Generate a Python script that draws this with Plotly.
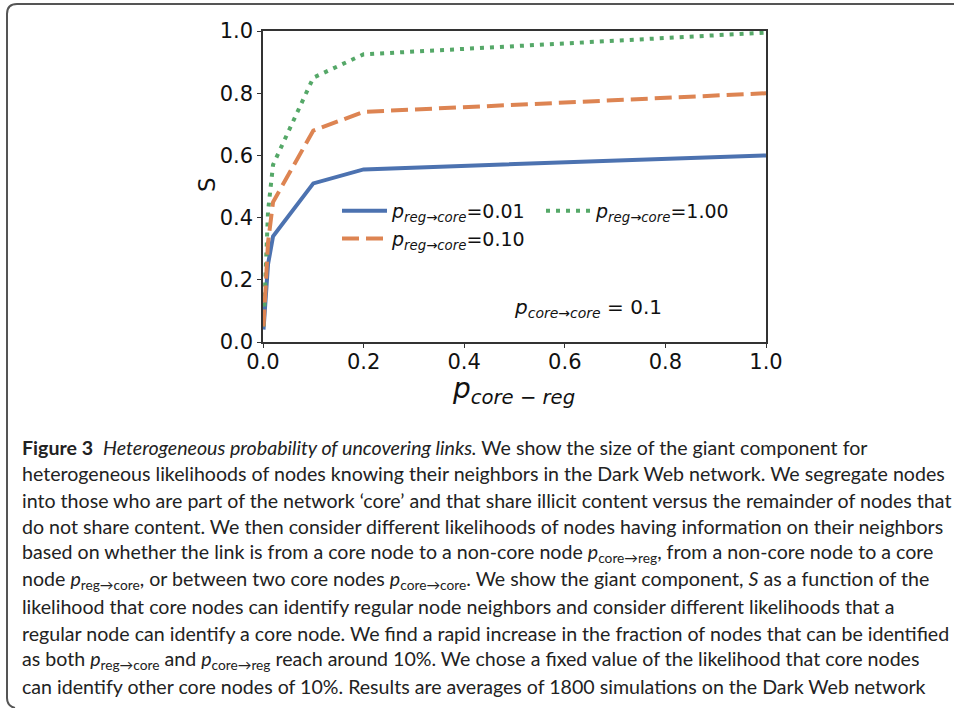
import plotly.graph_objects as go

# ---- data ----
x_core_reg = [0.001, 0.01, 0.02, 0.1, 0.2, 1.0]
s_reg001 = [0.04, 0.25, 0.34, 0.51, 0.555, 0.60]
s_reg010 = [0.05, 0.32, 0.45, 0.68, 0.74, 0.80]
s_reg100 = [0.05, 0.42, 0.57, 0.85, 0.925, 0.995]
series_names = ["0.01", "1.00", "0.10"]
tick_vals = [0.0, 0.2, 0.4, 0.6, 0.8, 1.0]
tick_text = ["0.0", "0.2", "0.4", "0.6", "0.8", "1.0"]

caption_lines = [
    "<b>Figure 3</b>  <i>Heterogeneous probability of uncovering links.</i> We show the size of the giant component for",
    "heterogeneous likelihoods of nodes knowing their neighbors in the Dark Web network. We segregate nodes",
    "into those who are part of the network ‘core’ and that share illicit content versus the remainder of nodes that",
    "do not share content. We then consider different likelihoods of nodes having information on their neighbors",
    "based on whether the link is from a core node to a non-core node <i>p</i><sub>core→reg</sub>, from a non-core node to a core",
    "node <i>p</i><sub>reg→core</sub>, or between two core nodes <i>p</i><sub>core→core</sub>. We show the giant component, <i>S</i> as a function of the",
    "likelihood that core nodes can identify regular node neighbors and consider different likelihoods that a",
    "regular node can identify a core node. We find a rapid increase in the fraction of nodes that can be identified",
    "as both <i>p</i><sub>reg→core</sub> and <i>p</i><sub>core→reg</sub> reach around 10%. We chose a fixed value of the likelihood that core nodes",
    "can identify other core nodes of 10%. Results are averages of 1800 simulations on the Dark Web network",
]

W, H = 954, 708
L, R, T, B = 263, 766, 31, 342


def px(x):
    return (x - L) / (R - L)


def py(y):
    return (B - y) / (B - T)


fig = go.Figure()
leg_label = "<i>p<sub>reg→core</sub></i>="
fig.add_trace(go.Scatter(x=x_core_reg, y=s_reg001, mode="lines", name=leg_label + series_names[0],
                         line=dict(color="#4C72B0", width=4)))
fig.add_trace(go.Scatter(x=x_core_reg, y=s_reg100, mode="lines", name=leg_label + series_names[1],
                         line=dict(color="#55A868", width=4, dash="4px,6px")))
fig.add_trace(go.Scatter(x=x_core_reg, y=s_reg010, mode="lines", name=leg_label + series_names[2],
                         line=dict(color="#DD8452", width=4, dash="17px,7px")))

axis_common = dict(
    range=[0, 1], tickvals=tick_vals, ticktext=tick_text, showgrid=False, zeroline=False,
    showline=True, linecolor="#333", linewidth=1.5, mirror=True, ticks="outside", ticklen=4,
    tickcolor="#333", tickfont=dict(family="DejaVu Sans", size=21, color="#111"),
)
fig.update_xaxes(**axis_common, ticklabelstandoff=-4)
fig.update_yaxes(**axis_common)

fig.update_layout(
    width=W, height=H, margin=dict(l=L, r=W - R, t=T, b=H - B),
    paper_bgcolor="white", plot_bgcolor="white",
    showlegend=True,
    legend=dict(orientation="h", x=px(337), y=py(192), xanchor="left", yanchor="top",
                entrywidth=144, itemwidth=45, bgcolor="rgba(0,0,0,0)",
                font=dict(family="DejaVu Sans", size=19, color="#111"), tracegroupgap=0),
)

annotations = [
    dict(x=0.646, y=0.11, xref="x", yref="y", text="<i>p<sub>core→core</sub></i> = 0.1", showarrow=False,
         xanchor="center", yanchor="middle",
         font=dict(family="DejaVu Sans", size=20, color="#111")),
    dict(x=px(513), y=py(390), xref="paper", yref="paper", text="<i>p<sub>core − reg</sub></i>", showarrow=False,
         xanchor="center", yanchor="middle",
         font=dict(family="DejaVu Sans", size=28, color="#111")),
    dict(x=px(207), y=py(185), xref="paper", yref="paper", text="S", showarrow=False, textangle=-90,
         xanchor="center", yanchor="middle",
         font=dict(family="DejaVu Sans", size=23, color="#111")),
]
y0 = 447
for i, line in enumerate(caption_lines):
    annotations.append(dict(x=px(20), y=py(y0 + i * 26.6), xref="paper", yref="paper", text=line,
                            showarrow=False, xanchor="left", yanchor="middle",
                            font=dict(family="Lato", size=19.6, color="#222")))
fig.update_layout(annotations=annotations)

# rounded frame (top and left edges)
r = 10
path = (f"M {px(954)},{py(4)} L {px(7 + r)},{py(4)} Q {px(7)},{py(4)} {px(7)},{py(4 + r)} "
        f"L {px(7)},{py(698)} Q {px(7)},{py(706)} {px(15)},{py(708)}")
fig.add_shape(type="path", path=path, xref="paper", yref="paper", line=dict(color="#555", width=2))

fig.write_html("out.html", config={"displayModeBar": False},
               post_script="document.body.style.margin='0px';")
